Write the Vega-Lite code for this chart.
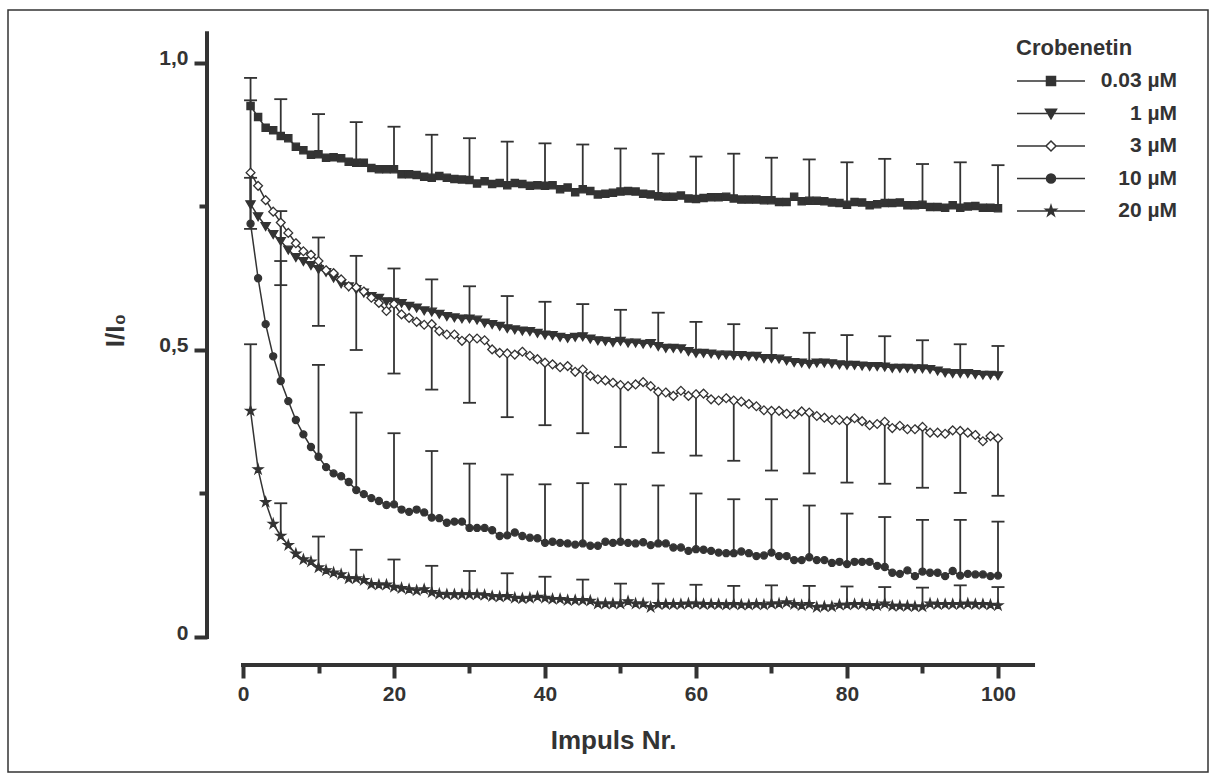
{
"$schema": "https://vega.github.io/schema/vega-lite/v6.json",
"width": 1200, "height": 762,
"autosize": {"type": "none"},
"padding": {"left": 8, "top": 10, "right": 8, "bottom": 8},
"background": "white",
"config": {
 "view": {"stroke": "#333", "strokeWidth": 1.5},
 "font": "Liberation Sans",
 "axis": {"domain": false, "grid": false, "tickColor": "#333", "tickWidth": 4, "labelFont": "Liberation Sans", "labelFontWeight": "bold", "labelFontSize": 21, "labelColor": "#333", "titleFont": "Liberation Sans", "titleFontWeight": "bold", "titleFontSize": 26, "titleColor": "#333"}
},
"datasets": {
 "pts": [
{"s":"0.03 µM","i":1,"v":0.925},{"s":"0.03 µM","i":2,"v":0.906},{"s":"0.03 µM","i":3,"v":0.887},{"s":"0.03 µM","i":4,"v":0.883},{"s":"0.03 µM","i":5,"v":0.873},{"s":"0.03 µM","i":6,"v":0.869},{"s":"0.03 µM","i":7,"v":0.854},{"s":"0.03 µM","i":8,"v":0.848},{"s":"0.03 µM","i":9,"v":0.840},{"s":"0.03 µM","i":10,"v":0.841},
{"s":"0.03 µM","i":11,"v":0.835},{"s":"0.03 µM","i":12,"v":0.836},{"s":"0.03 µM","i":13,"v":0.834},{"s":"0.03 µM","i":14,"v":0.828},{"s":"0.03 µM","i":15,"v":0.826},{"s":"0.03 µM","i":16,"v":0.826},{"s":"0.03 µM","i":17,"v":0.817},{"s":"0.03 µM","i":18,"v":0.815},{"s":"0.03 µM","i":19,"v":0.815},{"s":"0.03 µM","i":20,"v":0.815},
{"s":"0.03 µM","i":21,"v":0.806},{"s":"0.03 µM","i":22,"v":0.806},{"s":"0.03 µM","i":23,"v":0.805},{"s":"0.03 µM","i":24,"v":0.802},{"s":"0.03 µM","i":25,"v":0.800},{"s":"0.03 µM","i":26,"v":0.803},{"s":"0.03 µM","i":27,"v":0.800},{"s":"0.03 µM","i":28,"v":0.798},{"s":"0.03 µM","i":29,"v":0.797},{"s":"0.03 µM","i":30,"v":0.796},
{"s":"0.03 µM","i":31,"v":0.790},{"s":"0.03 µM","i":32,"v":0.794},{"s":"0.03 µM","i":33,"v":0.789},{"s":"0.03 µM","i":34,"v":0.791},{"s":"0.03 µM","i":35,"v":0.787},{"s":"0.03 µM","i":36,"v":0.791},{"s":"0.03 µM","i":37,"v":0.789},{"s":"0.03 µM","i":38,"v":0.786},{"s":"0.03 µM","i":39,"v":0.787},{"s":"0.03 µM","i":40,"v":0.786},
{"s":"0.03 µM","i":41,"v":0.787},{"s":"0.03 µM","i":42,"v":0.780},{"s":"0.03 µM","i":43,"v":0.783},{"s":"0.03 µM","i":44,"v":0.775},{"s":"0.03 µM","i":45,"v":0.780},{"s":"0.03 µM","i":46,"v":0.777},{"s":"0.03 µM","i":47,"v":0.771},{"s":"0.03 µM","i":48,"v":0.772},{"s":"0.03 µM","i":49,"v":0.774},{"s":"0.03 µM","i":50,"v":0.776},
{"s":"0.03 µM","i":51,"v":0.777},{"s":"0.03 µM","i":52,"v":0.776},{"s":"0.03 µM","i":53,"v":0.772},{"s":"0.03 µM","i":54,"v":0.771},{"s":"0.03 µM","i":55,"v":0.768},{"s":"0.03 µM","i":56,"v":0.767},{"s":"0.03 µM","i":57,"v":0.767},{"s":"0.03 µM","i":58,"v":0.769},{"s":"0.03 µM","i":59,"v":0.764},{"s":"0.03 µM","i":60,"v":0.763},
{"s":"0.03 µM","i":61,"v":0.765},{"s":"0.03 µM","i":62,"v":0.766},{"s":"0.03 µM","i":63,"v":0.766},{"s":"0.03 µM","i":64,"v":0.767},{"s":"0.03 µM","i":65,"v":0.764},{"s":"0.03 µM","i":66,"v":0.762},{"s":"0.03 µM","i":67,"v":0.762},{"s":"0.03 µM","i":68,"v":0.762},{"s":"0.03 µM","i":69,"v":0.761},{"s":"0.03 µM","i":70,"v":0.761},
{"s":"0.03 µM","i":71,"v":0.758},{"s":"0.03 µM","i":72,"v":0.758},{"s":"0.03 µM","i":73,"v":0.767},{"s":"0.03 µM","i":74,"v":0.759},{"s":"0.03 µM","i":75,"v":0.760},{"s":"0.03 µM","i":76,"v":0.760},{"s":"0.03 µM","i":77,"v":0.759},{"s":"0.03 µM","i":78,"v":0.757},{"s":"0.03 µM","i":79,"v":0.756},{"s":"0.03 µM","i":80,"v":0.753},
{"s":"0.03 µM","i":81,"v":0.758},{"s":"0.03 µM","i":82,"v":0.757},{"s":"0.03 µM","i":83,"v":0.752},{"s":"0.03 µM","i":84,"v":0.754},{"s":"0.03 µM","i":85,"v":0.756},{"s":"0.03 µM","i":86,"v":0.756},{"s":"0.03 µM","i":87,"v":0.757},{"s":"0.03 µM","i":88,"v":0.752},{"s":"0.03 µM","i":89,"v":0.752},{"s":"0.03 µM","i":90,"v":0.753},
{"s":"0.03 µM","i":91,"v":0.749},{"s":"0.03 µM","i":92,"v":0.749},{"s":"0.03 µM","i":93,"v":0.748},{"s":"0.03 µM","i":94,"v":0.752},{"s":"0.03 µM","i":95,"v":0.748},{"s":"0.03 µM","i":96,"v":0.750},{"s":"0.03 µM","i":97,"v":0.751},{"s":"0.03 µM","i":98,"v":0.748},{"s":"0.03 µM","i":99,"v":0.748},{"s":"0.03 µM","i":100,"v":0.747},
{"s":"1 µM","i":1,"v":0.754},{"s":"1 µM","i":2,"v":0.733},{"s":"1 µM","i":3,"v":0.716},{"s":"1 µM","i":4,"v":0.702},{"s":"1 µM","i":5,"v":0.690},{"s":"1 µM","i":6,"v":0.675},{"s":"1 µM","i":7,"v":0.662},{"s":"1 µM","i":8,"v":0.655},{"s":"1 µM","i":9,"v":0.648},{"s":"1 µM","i":10,"v":0.641},
{"s":"1 µM","i":11,"v":0.636},{"s":"1 µM","i":12,"v":0.626},{"s":"1 µM","i":13,"v":0.616},{"s":"1 µM","i":14,"v":0.611},{"s":"1 µM","i":15,"v":0.606},{"s":"1 µM","i":16,"v":0.600},{"s":"1 µM","i":17,"v":0.594},{"s":"1 µM","i":18,"v":0.591},{"s":"1 µM","i":19,"v":0.585},{"s":"1 µM","i":20,"v":0.584},
{"s":"1 µM","i":21,"v":0.582},{"s":"1 µM","i":22,"v":0.577},{"s":"1 µM","i":23,"v":0.574},{"s":"1 µM","i":24,"v":0.569},{"s":"1 µM","i":25,"v":0.567},{"s":"1 µM","i":26,"v":0.563},{"s":"1 µM","i":27,"v":0.559},{"s":"1 µM","i":28,"v":0.557},{"s":"1 µM","i":29,"v":0.555},{"s":"1 µM","i":30,"v":0.555},
{"s":"1 µM","i":31,"v":0.553},{"s":"1 µM","i":32,"v":0.548},{"s":"1 µM","i":33,"v":0.545},{"s":"1 µM","i":34,"v":0.542},{"s":"1 µM","i":35,"v":0.538},{"s":"1 µM","i":36,"v":0.536},{"s":"1 µM","i":37,"v":0.534},{"s":"1 µM","i":38,"v":0.533},{"s":"1 µM","i":39,"v":0.530},{"s":"1 µM","i":40,"v":0.527},
{"s":"1 µM","i":41,"v":0.526},{"s":"1 µM","i":42,"v":0.523},{"s":"1 µM","i":43,"v":0.521},{"s":"1 µM","i":44,"v":0.523},{"s":"1 µM","i":45,"v":0.524},{"s":"1 µM","i":46,"v":0.520},{"s":"1 µM","i":47,"v":0.517},{"s":"1 µM","i":48,"v":0.516},{"s":"1 µM","i":49,"v":0.514},{"s":"1 µM","i":50,"v":0.516},
{"s":"1 µM","i":51,"v":0.513},{"s":"1 µM","i":52,"v":0.513},{"s":"1 µM","i":53,"v":0.511},{"s":"1 µM","i":54,"v":0.512},{"s":"1 µM","i":55,"v":0.507},{"s":"1 µM","i":56,"v":0.504},{"s":"1 µM","i":57,"v":0.504},{"s":"1 µM","i":58,"v":0.503},{"s":"1 µM","i":59,"v":0.498},{"s":"1 µM","i":60,"v":0.495},
{"s":"1 µM","i":61,"v":0.495},{"s":"1 µM","i":62,"v":0.494},{"s":"1 µM","i":63,"v":0.492},{"s":"1 µM","i":64,"v":0.492},{"s":"1 µM","i":65,"v":0.491},{"s":"1 µM","i":66,"v":0.491},{"s":"1 µM","i":67,"v":0.490},{"s":"1 µM","i":68,"v":0.490},{"s":"1 µM","i":69,"v":0.486},{"s":"1 µM","i":70,"v":0.486},
{"s":"1 µM","i":71,"v":0.485},{"s":"1 µM","i":72,"v":0.482},{"s":"1 µM","i":73,"v":0.479},{"s":"1 µM","i":74,"v":0.478},{"s":"1 µM","i":75,"v":0.476},{"s":"1 µM","i":76,"v":0.478},{"s":"1 µM","i":77,"v":0.478},{"s":"1 µM","i":78,"v":0.477},{"s":"1 µM","i":79,"v":0.475},{"s":"1 µM","i":80,"v":0.474},
{"s":"1 µM","i":81,"v":0.474},{"s":"1 µM","i":82,"v":0.473},{"s":"1 µM","i":83,"v":0.472},{"s":"1 µM","i":84,"v":0.472},{"s":"1 µM","i":85,"v":0.471},{"s":"1 µM","i":86,"v":0.469},{"s":"1 µM","i":87,"v":0.469},{"s":"1 µM","i":88,"v":0.469},{"s":"1 µM","i":89,"v":0.468},{"s":"1 µM","i":90,"v":0.468},
{"s":"1 µM","i":91,"v":0.467},{"s":"1 µM","i":92,"v":0.464},{"s":"1 µM","i":93,"v":0.461},{"s":"1 µM","i":94,"v":0.460},{"s":"1 µM","i":95,"v":0.460},{"s":"1 µM","i":96,"v":0.460},{"s":"1 µM","i":97,"v":0.458},{"s":"1 µM","i":98,"v":0.457},{"s":"1 µM","i":99,"v":0.457},{"s":"1 µM","i":100,"v":0.456},
{"s":"3 µM","i":1,"v":0.809},{"s":"3 µM","i":2,"v":0.786},{"s":"3 µM","i":3,"v":0.761},{"s":"3 µM","i":4,"v":0.741},{"s":"3 µM","i":5,"v":0.722},{"s":"3 µM","i":6,"v":0.704},{"s":"3 µM","i":7,"v":0.686},{"s":"3 µM","i":8,"v":0.672},{"s":"3 µM","i":9,"v":0.666},{"s":"3 µM","i":10,"v":0.655},
{"s":"3 µM","i":11,"v":0.639},{"s":"3 µM","i":12,"v":0.634},{"s":"3 µM","i":13,"v":0.623},{"s":"3 µM","i":14,"v":0.611},{"s":"3 µM","i":15,"v":0.609},{"s":"3 µM","i":16,"v":0.602},{"s":"3 µM","i":17,"v":0.591},{"s":"3 µM","i":18,"v":0.582},{"s":"3 µM","i":19,"v":0.568},{"s":"3 µM","i":20,"v":0.580},
{"s":"3 µM","i":21,"v":0.562},{"s":"3 µM","i":22,"v":0.556},{"s":"3 µM","i":23,"v":0.549},{"s":"3 µM","i":24,"v":0.544},{"s":"3 µM","i":25,"v":0.545},{"s":"3 µM","i":26,"v":0.533},{"s":"3 µM","i":27,"v":0.527},{"s":"3 µM","i":28,"v":0.527},{"s":"3 µM","i":29,"v":0.516},{"s":"3 µM","i":30,"v":0.520},
{"s":"3 µM","i":31,"v":0.520},{"s":"3 µM","i":32,"v":0.517},{"s":"3 µM","i":33,"v":0.501},{"s":"3 µM","i":34,"v":0.495},{"s":"3 µM","i":35,"v":0.494},{"s":"3 µM","i":36,"v":0.492},{"s":"3 µM","i":37,"v":0.497},{"s":"3 µM","i":38,"v":0.490},{"s":"3 µM","i":39,"v":0.484},{"s":"3 µM","i":40,"v":0.478},
{"s":"3 µM","i":41,"v":0.475},{"s":"3 µM","i":42,"v":0.470},{"s":"3 µM","i":43,"v":0.472},{"s":"3 µM","i":44,"v":0.462},{"s":"3 µM","i":45,"v":0.466},{"s":"3 µM","i":46,"v":0.455},{"s":"3 µM","i":47,"v":0.449},{"s":"3 µM","i":48,"v":0.447},{"s":"3 µM","i":49,"v":0.443},{"s":"3 µM","i":50,"v":0.439},
{"s":"3 µM","i":51,"v":0.437},{"s":"3 µM","i":52,"v":0.440},{"s":"3 µM","i":53,"v":0.444},{"s":"3 µM","i":54,"v":0.437},{"s":"3 µM","i":55,"v":0.427},{"s":"3 µM","i":56,"v":0.426},{"s":"3 µM","i":57,"v":0.420},{"s":"3 µM","i":58,"v":0.429},{"s":"3 µM","i":59,"v":0.420},{"s":"3 µM","i":60,"v":0.423},
{"s":"3 µM","i":61,"v":0.424},{"s":"3 µM","i":62,"v":0.414},{"s":"3 µM","i":63,"v":0.412},{"s":"3 µM","i":64,"v":0.416},{"s":"3 µM","i":65,"v":0.412},{"s":"3 µM","i":66,"v":0.410},{"s":"3 µM","i":67,"v":0.406},{"s":"3 µM","i":68,"v":0.402},{"s":"3 µM","i":69,"v":0.395},{"s":"3 µM","i":70,"v":0.394},
{"s":"3 µM","i":71,"v":0.394},{"s":"3 µM","i":72,"v":0.389},{"s":"3 µM","i":73,"v":0.388},{"s":"3 µM","i":74,"v":0.393},{"s":"3 µM","i":75,"v":0.391},{"s":"3 µM","i":76,"v":0.385},{"s":"3 µM","i":77,"v":0.382},{"s":"3 µM","i":78,"v":0.378},{"s":"3 µM","i":79,"v":0.378},{"s":"3 µM","i":80,"v":0.376},
{"s":"3 µM","i":81,"v":0.381},{"s":"3 µM","i":82,"v":0.376},{"s":"3 µM","i":83,"v":0.369},{"s":"3 µM","i":84,"v":0.371},{"s":"3 µM","i":85,"v":0.375},{"s":"3 µM","i":86,"v":0.364},{"s":"3 µM","i":87,"v":0.368},{"s":"3 µM","i":88,"v":0.362},{"s":"3 µM","i":89,"v":0.362},{"s":"3 µM","i":90,"v":0.366},
{"s":"3 µM","i":91,"v":0.356},{"s":"3 µM","i":92,"v":0.356},{"s":"3 µM","i":93,"v":0.354},{"s":"3 µM","i":94,"v":0.360},{"s":"3 µM","i":95,"v":0.359},{"s":"3 µM","i":96,"v":0.356},{"s":"3 µM","i":97,"v":0.352},{"s":"3 µM","i":98,"v":0.341},{"s":"3 µM","i":99,"v":0.350},{"s":"3 µM","i":100,"v":0.346},
{"s":"10 µM","i":1,"v":0.720},{"s":"10 µM","i":2,"v":0.625},{"s":"10 µM","i":3,"v":0.545},{"s":"10 µM","i":4,"v":0.489},{"s":"10 µM","i":5,"v":0.446},{"s":"10 µM","i":6,"v":0.411},{"s":"10 µM","i":7,"v":0.378},{"s":"10 µM","i":8,"v":0.353},{"s":"10 µM","i":9,"v":0.331},{"s":"10 µM","i":10,"v":0.314},
{"s":"10 µM","i":11,"v":0.296},{"s":"10 µM","i":12,"v":0.285},{"s":"10 µM","i":13,"v":0.280},{"s":"10 µM","i":14,"v":0.270},{"s":"10 µM","i":15,"v":0.256},{"s":"10 µM","i":16,"v":0.249},{"s":"10 µM","i":17,"v":0.242},{"s":"10 µM","i":18,"v":0.237},{"s":"10 µM","i":19,"v":0.230},{"s":"10 µM","i":20,"v":0.231},
{"s":"10 µM","i":21,"v":0.222},{"s":"10 µM","i":22,"v":0.218},{"s":"10 µM","i":23,"v":0.222},{"s":"10 µM","i":24,"v":0.217},{"s":"10 µM","i":25,"v":0.208},{"s":"10 µM","i":26,"v":0.207},{"s":"10 µM","i":27,"v":0.199},{"s":"10 µM","i":28,"v":0.201},{"s":"10 µM","i":29,"v":0.201},{"s":"10 µM","i":30,"v":0.190},
{"s":"10 µM","i":31,"v":0.190},{"s":"10 µM","i":32,"v":0.190},{"s":"10 µM","i":33,"v":0.186},{"s":"10 µM","i":34,"v":0.176},{"s":"10 µM","i":35,"v":0.177},{"s":"10 µM","i":36,"v":0.182},{"s":"10 µM","i":37,"v":0.176},{"s":"10 µM","i":38,"v":0.173},{"s":"10 µM","i":39,"v":0.172},{"s":"10 µM","i":40,"v":0.164},
{"s":"10 µM","i":41,"v":0.166},{"s":"10 µM","i":42,"v":0.164},{"s":"10 µM","i":43,"v":0.163},{"s":"10 µM","i":44,"v":0.161},{"s":"10 µM","i":45,"v":0.163},{"s":"10 µM","i":46,"v":0.159},{"s":"10 µM","i":47,"v":0.159},{"s":"10 µM","i":48,"v":0.166},{"s":"10 µM","i":49,"v":0.164},{"s":"10 µM","i":50,"v":0.166},
{"s":"10 µM","i":51,"v":0.164},{"s":"10 µM","i":52,"v":0.163},{"s":"10 µM","i":53,"v":0.165},{"s":"10 µM","i":54,"v":0.160},{"s":"10 µM","i":55,"v":0.163},{"s":"10 µM","i":56,"v":0.163},{"s":"10 µM","i":57,"v":0.156},{"s":"10 µM","i":58,"v":0.156},{"s":"10 µM","i":59,"v":0.150},{"s":"10 µM","i":60,"v":0.153},
{"s":"10 µM","i":61,"v":0.152},{"s":"10 µM","i":62,"v":0.150},{"s":"10 µM","i":63,"v":0.147},{"s":"10 µM","i":64,"v":0.146},{"s":"10 µM","i":65,"v":0.146},{"s":"10 µM","i":66,"v":0.149},{"s":"10 µM","i":67,"v":0.146},{"s":"10 µM","i":68,"v":0.141},{"s":"10 µM","i":69,"v":0.142},{"s":"10 µM","i":70,"v":0.147},
{"s":"10 µM","i":71,"v":0.141},{"s":"10 µM","i":72,"v":0.141},{"s":"10 µM","i":73,"v":0.134},{"s":"10 µM","i":74,"v":0.134},{"s":"10 µM","i":75,"v":0.139},{"s":"10 µM","i":76,"v":0.134},{"s":"10 µM","i":77,"v":0.134},{"s":"10 µM","i":78,"v":0.129},{"s":"10 µM","i":79,"v":0.131},{"s":"10 µM","i":80,"v":0.127},
{"s":"10 µM","i":81,"v":0.131},{"s":"10 µM","i":82,"v":0.131},{"s":"10 µM","i":83,"v":0.131},{"s":"10 µM","i":84,"v":0.124},{"s":"10 µM","i":85,"v":0.122},{"s":"10 µM","i":86,"v":0.112},{"s":"10 µM","i":87,"v":0.110},{"s":"10 µM","i":88,"v":0.116},{"s":"10 µM","i":89,"v":0.106},{"s":"10 µM","i":90,"v":0.114},
{"s":"10 µM","i":91,"v":0.112},{"s":"10 µM","i":92,"v":0.112},{"s":"10 µM","i":93,"v":0.106},{"s":"10 µM","i":94,"v":0.115},{"s":"10 µM","i":95,"v":0.107},{"s":"10 µM","i":96,"v":0.110},{"s":"10 µM","i":97,"v":0.109},{"s":"10 µM","i":98,"v":0.109},{"s":"10 µM","i":99,"v":0.106},{"s":"10 µM","i":100,"v":0.107},
{"s":"20 µM","i":1,"v":0.394},{"s":"20 µM","i":2,"v":0.292},{"s":"20 µM","i":3,"v":0.235},{"s":"20 µM","i":4,"v":0.197},{"s":"20 µM","i":5,"v":0.176},{"s":"20 µM","i":6,"v":0.160},{"s":"20 µM","i":7,"v":0.145},{"s":"20 µM","i":8,"v":0.135},{"s":"20 µM","i":9,"v":0.131},{"s":"20 µM","i":10,"v":0.121},
{"s":"20 µM","i":11,"v":0.116},{"s":"20 µM","i":12,"v":0.112},{"s":"20 µM","i":13,"v":0.109},{"s":"20 µM","i":14,"v":0.102},{"s":"20 µM","i":15,"v":0.102},{"s":"20 µM","i":16,"v":0.099},{"s":"20 µM","i":17,"v":0.092},{"s":"20 µM","i":18,"v":0.091},{"s":"20 µM","i":19,"v":0.091},{"s":"20 µM","i":20,"v":0.087},
{"s":"20 µM","i":21,"v":0.085},{"s":"20 µM","i":22,"v":0.083},{"s":"20 µM","i":23,"v":0.081},{"s":"20 µM","i":24,"v":0.083},{"s":"20 µM","i":25,"v":0.078},{"s":"20 µM","i":26,"v":0.075},{"s":"20 µM","i":27,"v":0.074},{"s":"20 µM","i":28,"v":0.074},{"s":"20 µM","i":29,"v":0.074},{"s":"20 µM","i":30,"v":0.074},
{"s":"20 µM","i":31,"v":0.074},{"s":"20 µM","i":32,"v":0.073},{"s":"20 µM","i":33,"v":0.071},{"s":"20 µM","i":34,"v":0.070},{"s":"20 µM","i":35,"v":0.071},{"s":"20 µM","i":36,"v":0.068},{"s":"20 µM","i":37,"v":0.067},{"s":"20 µM","i":38,"v":0.068},{"s":"20 µM","i":39,"v":0.070},{"s":"20 µM","i":40,"v":0.068},
{"s":"20 µM","i":41,"v":0.066},{"s":"20 µM","i":42,"v":0.066},{"s":"20 µM","i":43,"v":0.064},{"s":"20 µM","i":44,"v":0.064},{"s":"20 µM","i":45,"v":0.064},{"s":"20 µM","i":46,"v":0.063},{"s":"20 µM","i":47,"v":0.058},{"s":"20 µM","i":48,"v":0.058},{"s":"20 µM","i":49,"v":0.058},{"s":"20 µM","i":50,"v":0.058},
{"s":"20 µM","i":51,"v":0.062},{"s":"20 µM","i":52,"v":0.058},{"s":"20 µM","i":53,"v":0.058},{"s":"20 µM","i":54,"v":0.052},{"s":"20 µM","i":55,"v":0.057},{"s":"20 µM","i":56,"v":0.057},{"s":"20 µM","i":57,"v":0.057},{"s":"20 µM","i":58,"v":0.057},{"s":"20 µM","i":59,"v":0.058},{"s":"20 µM","i":60,"v":0.058},
{"s":"20 µM","i":61,"v":0.057},{"s":"20 µM","i":62,"v":0.057},{"s":"20 µM","i":63,"v":0.057},{"s":"20 µM","i":64,"v":0.056},{"s":"20 µM","i":65,"v":0.057},{"s":"20 µM","i":66,"v":0.056},{"s":"20 µM","i":67,"v":0.056},{"s":"20 µM","i":68,"v":0.057},{"s":"20 µM","i":69,"v":0.056},{"s":"20 µM","i":70,"v":0.058},
{"s":"20 µM","i":71,"v":0.058},{"s":"20 µM","i":72,"v":0.060},{"s":"20 µM","i":73,"v":0.057},{"s":"20 µM","i":74,"v":0.055},{"s":"20 µM","i":75,"v":0.057},{"s":"20 µM","i":76,"v":0.052},{"s":"20 µM","i":77,"v":0.053},{"s":"20 µM","i":78,"v":0.053},{"s":"20 µM","i":79,"v":0.056},{"s":"20 µM","i":80,"v":0.056},
{"s":"20 µM","i":81,"v":0.057},{"s":"20 µM","i":82,"v":0.057},{"s":"20 µM","i":83,"v":0.055},{"s":"20 µM","i":84,"v":0.055},{"s":"20 µM","i":85,"v":0.058},{"s":"20 µM","i":86,"v":0.054},{"s":"20 µM","i":87,"v":0.054},{"s":"20 µM","i":88,"v":0.054},{"s":"20 µM","i":89,"v":0.053},{"s":"20 µM","i":90,"v":0.053},
{"s":"20 µM","i":91,"v":0.058},{"s":"20 µM","i":92,"v":0.057},{"s":"20 µM","i":93,"v":0.057},{"s":"20 µM","i":94,"v":0.057},{"s":"20 µM","i":95,"v":0.057},{"s":"20 µM","i":96,"v":0.058},{"s":"20 µM","i":97,"v":0.057},{"s":"20 µM","i":98,"v":0.057},{"s":"20 µM","i":99,"v":0.056},{"s":"20 µM","i":100,"v":0.055}
 ],
 "err": [
{"s":"0.03 µM","i":1,"v":0.925,"e":0.974},{"s":"0.03 µM","i":5,"v":0.873,"e":0.937},{"s":"0.03 µM","i":10,"v":0.841,"e":0.911},{"s":"0.03 µM","i":15,"v":0.826,"e":0.897},{"s":"0.03 µM","i":20,"v":0.815,"e":0.889},{"s":"0.03 µM","i":25,"v":0.800,"e":0.875},{"s":"0.03 µM","i":30,"v":0.796,"e":0.869},{"s":"0.03 µM","i":35,"v":0.787,"e":0.863},{"s":"0.03 µM","i":40,"v":0.786,"e":0.860},{"s":"0.03 µM","i":45,"v":0.780,"e":0.858},{"s":"0.03 µM","i":50,"v":0.776,"e":0.851},{"s":"0.03 µM","i":55,"v":0.768,"e":0.842},{"s":"0.03 µM","i":60,"v":0.763,"e":0.837},{"s":"0.03 µM","i":65,"v":0.764,"e":0.842},{"s":"0.03 µM","i":70,"v":0.761,"e":0.835},{"s":"0.03 µM","i":75,"v":0.760,"e":0.832},{"s":"0.03 µM","i":80,"v":0.753,"e":0.827},{"s":"0.03 µM","i":85,"v":0.756,"e":0.833},{"s":"0.03 µM","i":90,"v":0.753,"e":0.824},{"s":"0.03 µM","i":95,"v":0.748,"e":0.827},{"s":"0.03 µM","i":100,"v":0.747,"e":0.822},
{"s":"1 µM","i":1,"v":0.754,"e":0.800},{"s":"1 µM","i":5,"v":0.690,"e":0.742},{"s":"1 µM","i":10,"v":0.641,"e":0.696},{"s":"1 µM","i":15,"v":0.606,"e":0.664},{"s":"1 µM","i":20,"v":0.584,"e":0.642},{"s":"1 µM","i":25,"v":0.567,"e":0.623},{"s":"1 µM","i":30,"v":0.555,"e":0.611},{"s":"1 µM","i":35,"v":0.538,"e":0.594},{"s":"1 µM","i":40,"v":0.527,"e":0.584},{"s":"1 µM","i":45,"v":0.524,"e":0.580},{"s":"1 µM","i":50,"v":0.516,"e":0.570},{"s":"1 µM","i":55,"v":0.507,"e":0.565},{"s":"1 µM","i":60,"v":0.495,"e":0.549},{"s":"1 µM","i":65,"v":0.491,"e":0.545},{"s":"1 µM","i":70,"v":0.486,"e":0.538},{"s":"1 µM","i":75,"v":0.476,"e":0.530},{"s":"1 µM","i":80,"v":0.474,"e":0.526},{"s":"1 µM","i":85,"v":0.471,"e":0.524},{"s":"1 µM","i":90,"v":0.468,"e":0.517},{"s":"1 µM","i":95,"v":0.460,"e":0.510},{"s":"1 µM","i":100,"v":0.456,"e":0.507},
{"s":"3 µM","i":1,"v":0.809,"e":0.711},{"s":"3 µM","i":5,"v":0.722,"e":0.613},{"s":"3 µM","i":10,"v":0.655,"e":0.542},{"s":"3 µM","i":15,"v":0.609,"e":0.500},{"s":"3 µM","i":20,"v":0.580,"e":0.459},{"s":"3 µM","i":25,"v":0.545,"e":0.431},{"s":"3 µM","i":30,"v":0.520,"e":0.408},{"s":"3 µM","i":35,"v":0.494,"e":0.383},{"s":"3 µM","i":40,"v":0.478,"e":0.369},{"s":"3 µM","i":45,"v":0.466,"e":0.355},{"s":"3 µM","i":50,"v":0.439,"e":0.331},{"s":"3 µM","i":55,"v":0.427,"e":0.321},{"s":"3 µM","i":60,"v":0.423,"e":0.316},{"s":"3 µM","i":65,"v":0.412,"e":0.307},{"s":"3 µM","i":70,"v":0.394,"e":0.290},{"s":"3 µM","i":75,"v":0.391,"e":0.285},{"s":"3 µM","i":80,"v":0.376,"e":0.269},{"s":"3 µM","i":85,"v":0.375,"e":0.267},{"s":"3 µM","i":90,"v":0.366,"e":0.260},{"s":"3 µM","i":95,"v":0.359,"e":0.251},{"s":"3 µM","i":100,"v":0.346,"e":0.246},
{"s":"10 µM","i":1,"v":0.720,"e":0.935},{"s":"10 µM","i":5,"v":0.446,"e":0.655},{"s":"10 µM","i":10,"v":0.314,"e":0.474},{"s":"10 µM","i":15,"v":0.256,"e":0.391},{"s":"10 µM","i":20,"v":0.231,"e":0.355},{"s":"10 µM","i":25,"v":0.208,"e":0.324},{"s":"10 µM","i":30,"v":0.190,"e":0.302},{"s":"10 µM","i":35,"v":0.177,"e":0.283},{"s":"10 µM","i":40,"v":0.164,"e":0.266},{"s":"10 µM","i":45,"v":0.163,"e":0.268},{"s":"10 µM","i":50,"v":0.166,"e":0.266},{"s":"10 µM","i":55,"v":0.163,"e":0.264},{"s":"10 µM","i":60,"v":0.153,"e":0.250},{"s":"10 µM","i":65,"v":0.146,"e":0.240},{"s":"10 µM","i":70,"v":0.147,"e":0.240},{"s":"10 µM","i":75,"v":0.139,"e":0.229},{"s":"10 µM","i":80,"v":0.127,"e":0.215},{"s":"10 µM","i":85,"v":0.122,"e":0.209},{"s":"10 µM","i":90,"v":0.114,"e":0.204},{"s":"10 µM","i":95,"v":0.107,"e":0.204},{"s":"10 µM","i":100,"v":0.107,"e":0.201},
{"s":"20 µM","i":1,"v":0.394,"e":0.510},{"s":"20 µM","i":5,"v":0.176,"e":0.233},{"s":"20 µM","i":10,"v":0.121,"e":0.175},{"s":"20 µM","i":15,"v":0.102,"e":0.152},{"s":"20 µM","i":20,"v":0.087,"e":0.135},{"s":"20 µM","i":25,"v":0.078,"e":0.124},{"s":"20 µM","i":30,"v":0.074,"e":0.115},{"s":"20 µM","i":35,"v":0.071,"e":0.111},{"s":"20 µM","i":40,"v":0.068,"e":0.105},{"s":"20 µM","i":45,"v":0.064,"e":0.100},{"s":"20 µM","i":50,"v":0.058,"e":0.093},{"s":"20 µM","i":55,"v":0.057,"e":0.093},{"s":"20 µM","i":60,"v":0.058,"e":0.091},{"s":"20 µM","i":65,"v":0.057,"e":0.089},{"s":"20 µM","i":70,"v":0.058,"e":0.090},{"s":"20 µM","i":75,"v":0.057,"e":0.089},{"s":"20 µM","i":80,"v":0.056,"e":0.088},{"s":"20 µM","i":85,"v":0.058,"e":0.087},{"s":"20 µM","i":90,"v":0.053,"e":0.086},{"s":"20 µM","i":95,"v":0.057,"e":0.090},{"s":"20 µM","i":100,"v":0.055,"e":0.087}
 ]
},
"layer": [
 {
  "data": {"name": "err"},
  "mark": {"type": "rule", "color": "#333", "strokeWidth": 1.8},
  "encoding": {
   "x": {"field": "i", "type": "quantitative", "scale": {"domain": [-31.126, 127.815], "nice": false, "zero": false},
     "axis": {"orient": "bottom", "offset": -107, "values": [0, 20, 40, 60, 80, 100], "tickSize": 13, "labelPadding": 5, "labelFlush": false, "labelOverlap": false, "title": "Impuls Nr.", "titleX": 605, "titleY": 62, "titleBaseline": "top", "titleAlign": "center", "titleAnchor": null}},
   "y": {"field": "v", "type": "quantitative", "scale": {"domain": [-0.23519, 1.09233], "nice": false, "zero": false},
     "axis": {"orient": "left", "offset": -199, "values": [0, 0.5, 1], "tickSize": 13, "labelPadding": 6, "labelOverlap": false, "labelFlush": false, "labelBaseline": "alphabetic", "labelOffset": 2, "labelExpr": "datum.value == 0 ? '0' : replace(format(datum.value, '.1f'), '.', ',')", "title": "I/I₀", "titleAngle": -90, "titleX": -92, "titleY": 320, "titleAlign": "center", "titleBaseline": "middle", "titleAnchor": null}},
   "y2": {"field": "e"},
   "detail": {"field": "s"}
  }
 },
 {
  "data": {"name": "err"},
  "mark": {"type": "tick", "orient": "horizontal", "color": "#333", "size": 13, "thickness": 1.8, "opacity": 1},
  "encoding": {
   "x": {"field": "i", "type": "quantitative", "scale": {"domain": [-31.126, 127.815], "nice": false, "zero": false},
     "axis": {"orient": "bottom", "offset": -107, "values": [10, 30, 50, 70, 90], "tickSize": 8, "labels": false, "title": null}},
   "y": {"field": "e", "type": "quantitative", "scale": {"domain": [-0.23519, 1.09233], "nice": false, "zero": false},
     "axis": {"orient": "left", "offset": -199, "values": [0.25, 0.75], "tickSize": 8, "labels": false, "title": null}},
   "detail": {"field": "s"}
  }
 },
 {
  "data": {"name": "pts"},
  "mark": {"type": "line", "color": "#333", "strokeWidth": 1.5},
  "encoding": {
   "x": {"field": "i", "type": "quantitative", "scale": {"domain": [-31.126, 127.815], "nice": false, "zero": false}, "axis": null},
   "y": {"field": "v", "type": "quantitative", "scale": {"domain": [-0.23519, 1.09233], "nice": false, "zero": false}, "axis": null},
   "detail": {"field": "s"}
  }
 },
 {
  "data": {"name": "pts"},
  "mark": {"type": "point", "filled": true, "stroke": "#333", "strokeWidth": 1.3, "size": 64, "opacity": 1},
  "encoding": {
   "x": {"field": "i", "type": "quantitative", "scale": {"domain": [-31.126, 127.815], "nice": false, "zero": false}, "axis": null},
   "y": {"field": "v", "type": "quantitative", "scale": {"domain": [-0.23519, 1.09233], "nice": false, "zero": false}, "axis": null},
   "shape": {"field": "s", "type": "nominal", "legend": null,
     "scale": {"range": ["M-0.9,-0.9H0.9V0.9H-0.9Z", "M-1.15,-0.85H1.15L0,1.1Z", "M0.88,0A0.88,0.88,0,1,1,-0.88,0A0.88,0.88,0,1,1,0.88,0Z", "M0,-1.25L0.281,-0.386L1.189,-0.386L0.454,0.148L0.735,1.011L0,0.478L-0.735,1.011L-0.454,0.148L-1.189,-0.386L-0.281,-0.386Z", "M0,-1.1L1.1,0L0,1.1L-1.1,0Z"]}},
   "fill": {"field": "s", "type": "nominal", "legend": null, "scale": {"range": ["#333", "#333", "#333", "#333", "white"]}}
  }
 },
 {
  "data": {"name": "pts"},
  "transform": [{"filter": "false"}],
  "mark": {"type": "point", "filled": true, "stroke": "#333", "strokeWidth": 1.5, "size": 400, "opacity": 1},
  "encoding": {
   "x": {"field": "i", "type": "quantitative", "scale": {"domain": [-31.126, 127.815], "nice": false, "zero": false}, "axis": null},
   "y": {"field": "v", "type": "quantitative", "scale": {"domain": [-0.23519, 1.09233], "nice": false, "zero": false}, "axis": null},
   "shape": {"field": "s", "type": "nominal",
     "scale": {"domain": ["0.03 µM", "1 µM", "3 µM", "10 µM", "20 µM"], "range": ["M-3.4,0H3.4M-0.45,-0.45H0.45V0.45H-0.45Z", "M-3.4,0H3.4M-0.55,-0.42H0.55L0,0.52Z", "M-3.4,0H-0.5M0.5,0H3.4M0,-0.5L0.5,0L0,0.5L-0.5,0Z", "M-3.4,0H3.4M0.45,0A0.45,0.45,0,1,1,-0.45,0A0.45,0.45,0,1,1,0.45,0Z", "M-3.4,0H3.4M0,-0.55L0.124,-0.17L0.523,-0.17L0.2,0.065L0.323,0.445L0,0.21L-0.323,0.445L-0.2,0.065L-0.523,-0.17L-0.124,-0.17Z"]},
     "legend": {"orient": "none", "legendX": 1008, "legendY": 28, "padding": 0, "title": "Crobenetin", "titleFont": "Liberation Sans", "titleFontSize": 22, "titleFontWeight": "bold", "titleColor": "#333", "titlePadding": 10, "titleBaseline": "top",
       "labelFont": "Liberation Sans", "labelFontSize": 21, "labelFontWeight": "bold", "labelColor": "#333", "labelAlign": "right", "labelOffset": 115, "labelLimit": 200,
       "symbolSize": 400, "symbolOffset": 24, "symbolStrokeWidth": 1.5, "symbolOpacity": 1, "rowPadding": 11.5}},
   "fill": {"field": "s", "type": "nominal", "scale": {"domain": ["0.03 µM", "1 µM", "3 µM", "10 µM", "20 µM"], "range": ["#333", "#333", "white", "#333", "#333"]}},
   "stroke": {"field": "s", "type": "nominal", "scale": {"domain": ["0.03 µM", "1 µM", "3 µM", "10 µM", "20 µM"], "range": ["#333", "#333", "#333", "#333", "#333"]}}
  }
 },
 {
  "data": {"values": [{}]},
  "mark": {"type": "rule", "color": "#333", "strokeWidth": 4, "strokeCap": "square"},
  "encoding": {
   "x": {"datum": 0, "type": "quantitative", "scale": {"domain": [-31.126, 127.815], "nice": false, "zero": false}, "axis": null},
   "x2": {"datum": 104.64},
   "y": {"datum": -0.04878, "type": "quantitative", "scale": {"domain": [-0.23519, 1.09233], "nice": false, "zero": false}, "axis": null}
  }
 },
 {
  "data": {"values": [{}]},
  "mark": {"type": "rule", "color": "#333", "strokeWidth": 4, "strokeCap": "square"},
  "encoding": {
   "x": {"datum": -4.768, "type": "quantitative", "scale": {"domain": [-31.126, 127.815], "nice": false, "zero": false}, "axis": null},
   "y": {"datum": 0, "type": "quantitative", "scale": {"domain": [-0.23519, 1.09233], "nice": false, "zero": false}, "axis": null},
   "y2": {"datum": 1.052}
  }
 }
],
"resolve": {"axis": {"x": "independent", "y": "independent"}, "scale": {"shape": "independent", "fill": "independent", "stroke": "independent"}}
}
